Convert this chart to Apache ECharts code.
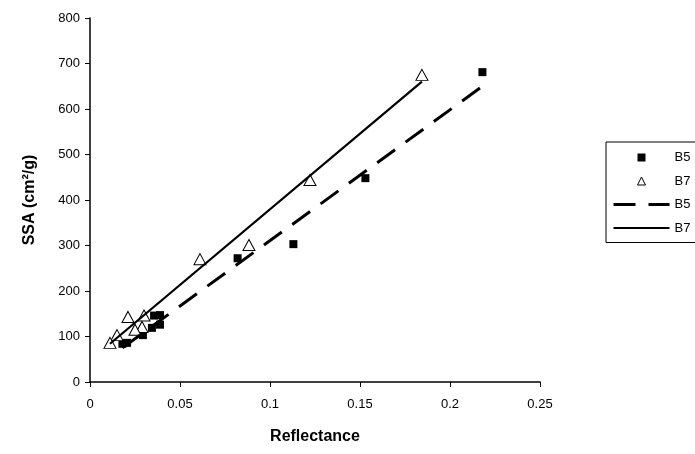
<!DOCTYPE html>
<html><head><meta charset="utf-8">
<script src="https://cdn.jsdelivr.net/npm/echarts@6/dist/echarts.min.js"></script>
<style>html,body{margin:0;padding:0;background:#fff}#c{width:695px;height:454px}</style>
</head><body><div id="c"></div>
<script>
// Measured data (Reflectance, SSA cm^2/g)
const b5Points = [[0.218,681],[0.153,448],[0.113,303],[0.082,272],[0.0389,147],[0.0356,146],[0.0389,126],[0.0344,119],[0.0294,103],[0.0206,86],[0.018,84]];
const b7Points = [[0.1844,675],[0.1222,444],[0.0883,301],[0.0611,270],[0.0211,143],[0.0300,146],[0.0289,121],[0.0250,115],[0.0150,103],[0.0111,86]];
// Linear trendline end points
const b5Trend = [[0.018,75],[0.218,650]];
const b7Trend = [[0.0111,84],[0.1844,660]];
const xTickLabels = ['0','0.05','0.1','0.15','0.2','0.25'];
const yTickLabels = ['0','100','200','300','400','500','600','700','800'];
const seriesIds = ['B5 points','B7 points','B5 trend','B7 trend'];
const legendLabels = ['B5','B7','B5','B7'];

const FONT = "'Liberation Sans', Arial, sans-serif";
const chart = echarts.init(document.getElementById('c'), null, {renderer:'canvas'});
chart.setOption({
  animation:false,
  backgroundColor:'#fff',
  grid:{left:90,right:155,top:18,bottom:72,containLabel:false},
  xAxis:{
    type:'value',min:0,max:0.25,interval:0.05,
    name:'Reflectance',nameLocation:'middle',nameGap:47,
    nameTextStyle:{fontFamily:FONT,fontSize:16,fontWeight:'bold',color:'#000'},
    axisLine:{show:true,onZero:false,lineStyle:{color:'#000',width:1.5}},
    axisTick:{show:true,inside:false,length:5,lineStyle:{color:'#000',width:1}},
    axisLabel:{margin:16,fontFamily:FONT,fontSize:13,color:'#000',
      formatter:(v,i)=>xTickLabels[i]},
    splitLine:{show:false}
  },
  yAxis:{
    type:'value',min:0,max:800,interval:100,
    name:'SSA (cm²/g)',nameLocation:'middle',nameGap:52,
    nameTextStyle:{fontFamily:FONT,fontSize:16,fontWeight:'bold',color:'#000'},
    axisLine:{show:true,onZero:false,lineStyle:{color:'#000',width:1.5}},
    axisTick:{show:true,inside:false,length:5,lineStyle:{color:'#000',width:1}},
    axisLabel:{margin:10,fontFamily:FONT,fontSize:13,color:'#000',
      formatter:(v,i)=>yTickLabels[i]},
    splitLine:{show:false}
  },
  legend:{
    orient:'vertical',left:606,top:142,
    padding:[9,14,8,6],itemGap:10.5,itemWidth:56,itemHeight:8,
    symbolKeepAspect:true,
    borderColor:'#000',borderWidth:1,backgroundColor:'#fff',
    textStyle:{fontFamily:FONT,fontSize:13,color:'#000'},
    formatter:(n)=>legendLabels[seriesIds.indexOf(n)],
    data:[
      {name:seriesIds[0],icon:'path://M0,0L10,0L10,10L0,10Z',itemStyle:{color:'#000',borderWidth:0,opacity:1}},
      {name:seriesIds[1],icon:'path://M5,0L10,10L0,10Z',itemStyle:{color:'#fff',borderColor:'#000',borderWidth:1,opacity:1}},
      {name:seriesIds[2],itemStyle:{opacity:0},lineStyle:{width:3}},
      {name:seriesIds[3],itemStyle:{opacity:0},lineStyle:{width:2}}
    ],
    selectedMode:false
  },
  series:[
    {name:seriesIds[0],type:'scatter',data:b5Points,symbol:'rect',symbolSize:8,
     itemStyle:{color:'#000',opacity:1},z:2},
    {name:seriesIds[1],type:'scatter',data:b7Points,symbol:'triangle',symbolSize:[12,11],
     itemStyle:{color:'#fff',borderColor:'#000',borderWidth:1,opacity:1},z:3},
    {name:seriesIds[2],type:'line',data:b5Trend,symbol:'none',showSymbol:false,
     lineStyle:{color:'#000',width:3,type:[22,13]},itemStyle:{color:'#000'},z:4},
    {name:seriesIds[3],type:'line',data:b7Trend,symbol:'none',showSymbol:false,
     lineStyle:{color:'#000',width:2.2,type:'solid'},itemStyle:{color:'#000'},z:4}
  ]
});
</script></body></html>
